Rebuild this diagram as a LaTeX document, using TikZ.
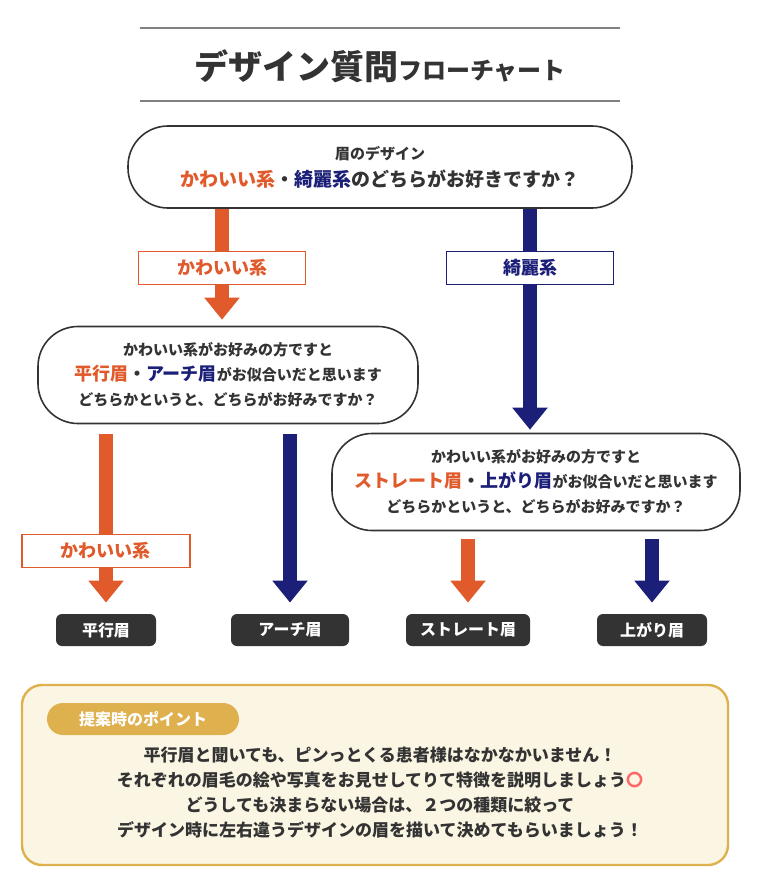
\documentclass[tikz,border=0pt]{standalone}
\usepackage{fontspec}
\setmainfont{Noto Sans CJK JP}
\usetikzlibrary{arrows.meta,positioning,calc}
\definecolor{orng}{HTML}{E05A2B}
\definecolor{navy}{HTML}{1B1F78}
\definecolor{dark}{HTML}{333333}
\definecolor{cream}{HTML}{FBF6E3}
\definecolor{gold}{HTML}{DFB04E}
\begin{document}
\begin{tikzpicture}[x=0.5pt,y=-0.5pt,
  qbox/.style={draw=dark, line width=0.8pt, rounded corners=20pt, fill=white,
    align=center, font=\bfseries\fontsize{7.5}{12.5}\selectfont, text=dark},
  tag/.style={draw=#1, line width=0.7pt, fill=white, text=#1,
    font=\bfseries\fontsize{9}{11}\selectfont, inner sep=0pt},
  leaf/.style={fill=dark, rounded corners=3pt, text=white, minimum height=16pt,
    font=\bfseries\fontsize{8}{10}\selectfont},
  arr/.style={draw=#1, line width=7pt,
    -{Triangle[length=11pt,width=17pt,color=#1]}},
]
  \useasboundingbox (0,0) rectangle (760,884);
  % title
  \draw[gray, line width=0.6pt] (140,28) -- (620,28);
  \draw[gray, line width=0.6pt] (140,101) -- (620,101);
  \node[text=dark, font=\bfseries] (title) at (380,66)
    {{\fontsize{17}{20}\selectfont デザイン質問}{\fontsize{12}{14}\selectfont フローチャート}};

  % questions
  \node[qbox, minimum width=252pt, minimum height=41pt] (q1) at (380,167)
    {眉のデザイン\\[1pt]{\fontsize{9.5}{12}\selectfont\textcolor{orng}{かわいい系}・\textcolor{navy}{綺麗系}のどちらがお好きですか？}};
  \node[qbox, minimum width=190pt, minimum height=48.5pt] (q2) at (228,375)
    {かわいい系がお好みの方ですと\\{\fontsize{9}{12}\selectfont\textcolor{orng}{平行眉}・\textcolor{navy}{アーチ眉}}がお似合いだと思います\\どちらかというと、どちらがお好みですか？};
  \node[qbox, minimum width=204pt, minimum height=48.5pt] (q3) at (536,482)
    {かわいい系がお好みの方ですと\\{\fontsize{9}{12}\selectfont\textcolor{orng}{ストレート眉}・\textcolor{navy}{上がり眉}}がお似合いだと思います\\どちらかというと、どちらがお好みですか？};

  % leaves
  \node[leaf, minimum width=50pt] (p1) at (106,630) {平行眉};
  \node[leaf, minimum width=59pt] (p2) at (290,630) {アーチ眉};
  \node[leaf, minimum width=62pt] (p3) at (468,630) {ストレート眉};
  \node[leaf, minimum width=55pt] (p4) at (652,630) {上がり眉};

  % arrows
  \coordinate (c1) at (222,0);
  \coordinate (c2) at (530,0);
  \draw[arr=orng, shorten >=3pt] (q1.south -| c1) -- (q2.north -| c1);
  \draw[arr=navy, shorten >=1.5pt] (q1.south -| c2) -- (q3.north -| c2);
  \draw[arr=orng, shorten <=5pt, shorten >=5.5pt] (q2.south -| p1) -- (p1.north);
  \draw[arr=navy, shorten <=5pt, shorten >=5.5pt] (q2.south -| p2) -- (p2.north);
  \draw[arr=orng, shorten <=4pt, shorten >=5.5pt] (q3.south -| p3) -- (p3.north);
  \draw[arr=navy, shorten <=4pt, shorten >=5.5pt] (q3.south -| p4) -- (p4.north);

  % labels on arrows
  \node[tag=orng, minimum width=83.5pt, minimum height=16.5pt] (t1) at (222,268) {かわいい系};
  \node[tag=navy, minimum width=83.5pt, minimum height=16.5pt] (t2) at (530,268) {綺麗系};
  \node[tag=orng, minimum width=84pt, minimum height=16.5pt] (t3) at (106,551) {かわいい系};

  % point box
  \node[draw=gold, line width=1.2pt, fill=cream, rounded corners=10pt,
    minimum width=353pt, minimum height=90pt] (pt) at (375,775) {};
  \node[fill=gold, rounded corners=8pt, text=white, minimum width=96pt, minimum height=16pt,
    font=\bfseries\fontsize{8}{10}\selectfont] (ptag) at (143,719) {提案時のポイント};
  \node[align=center, text=dark, font=\bfseries\fontsize{8.5}{12.5}\selectfont] (ptext) at (380,793)
    {平行眉と聞いても、ピンっとくる患者様はなかなかいません！\\
     それぞれの眉毛の絵や写真をお見せしてりて特徴を説明しましょう\textcolor{red!60}{〇}\\
     どうしても決まらない場合は、２つの種類に絞って\\
     デザイン時に左右違うデザインの眉を描いて決めてもらいましょう！};
\end{tikzpicture}
\end{document}
